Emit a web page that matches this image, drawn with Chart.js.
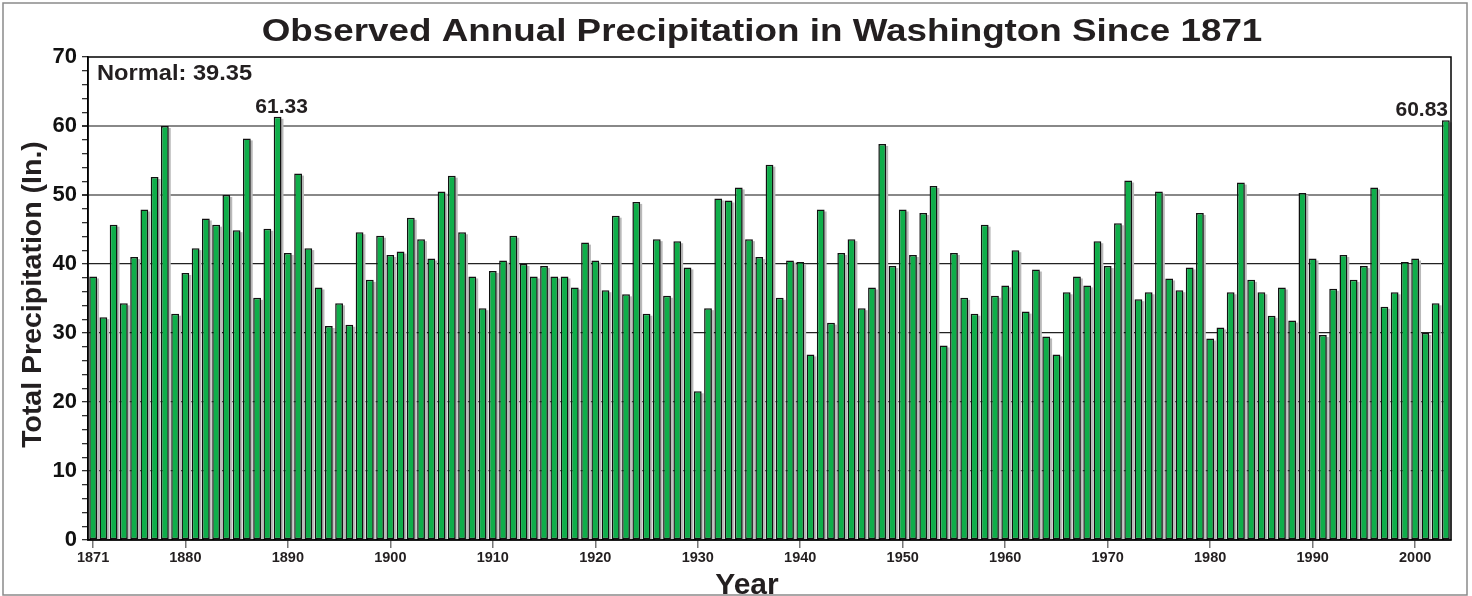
<!DOCTYPE html>
<html>
<head>
<meta charset="utf-8">
<script src="https://cdn.jsdelivr.net/npm/chart.js@4.4.1/dist/chart.umd.min.js"></script>
<style>
    html, body { margin: 0; padding: 0; background: #fff; }
    #wrap { width: 1472px; height: 596px; position: relative; }
</style>
</head>
<body>
<div id="wrap"><canvas id="chart" width="1472" height="596"></canvas></div>
<script>
// --- DADOS ---
const years = [
    '1871','1872','1873','1874','1875','1876','1877','1878','1879','1880',
    '1881','1882','1883','1884','1885','1886','1887','1888','1889','1890',
    '1891','1892','1893','1894','1895','1896','1897','1898','1899','1900',
    '1901','1902','1903','1904','1905','1906','1907','1908','1909','1910',
    '1911','1912','1913','1914','1915','1916','1917','1918','1919','1920',
    '1921','1922','1923','1924','1925','1926','1927','1928','1929','1930',
    '1931','1932','1933','1934','1935','1936','1937','1938','1939','1940',
    '1941','1942','1943','1944','1945','1946','1947','1948','1949','1950',
    '1951','1952','1953','1954','1955','1956','1957','1958','1959','1960',
    '1961','1962','1963','1964','1965','1966','1967','1968','1969','1970',
    '1971','1972','1973','1974','1975','1976','1977','1978','1979','1980',
    '1981','1982','1983','1984','1985','1986','1987','1988','1989','1990',
    '1991','1992','1993','1994','1995','1996','1997','1998','1999','2000',
    '2001','2002','2003'
];

const precipitation = [
    38.2, 32.3, 45.7, 34.3, 41.0, 47.9, 52.6, 60.0, 32.8, 38.7,
    42.3, 46.6, 45.7, 50.0, 44.9, 58.2, 35.1, 45.1, 61.33, 41.6,
    53.1, 42.3, 36.6, 31.0, 34.3, 31.2, 44.6, 37.7, 44.1, 41.3,
    41.8, 46.7, 43.6, 40.8, 50.5, 52.8, 44.6, 38.2, 33.6, 39.0,
    40.5, 44.1, 40.0, 38.2, 39.7, 38.2, 38.2, 36.6, 43.1, 40.5,
    36.2, 47.0, 35.6, 49.0, 32.8, 43.6, 35.4, 43.3, 39.5, 21.55,
    33.6, 49.5, 49.2, 51.1, 43.6, 41.0, 54.4, 35.1, 40.5, 40.3,
    26.9, 47.9, 31.5, 41.6, 43.6, 33.6, 36.6, 57.4, 39.7, 47.9,
    41.3, 47.4, 51.3, 28.2, 41.6, 35.1, 32.8, 45.7, 35.4, 36.9,
    42.0, 33.1, 39.2, 29.5, 26.9, 35.9, 38.2, 36.9, 43.3, 39.7,
    45.9, 52.1, 34.9, 35.9, 50.5, 37.9, 36.2, 39.5, 47.4, 29.2,
    30.8, 35.9, 51.8, 37.7, 35.9, 32.5, 36.6, 31.8, 50.3, 40.8,
    29.7, 36.4, 41.3, 37.7, 39.7, 51.1, 33.8, 35.9, 40.3, 40.8,
    30.0, 34.3, 60.83
];

const xTickLabels = ['1871','1880','1890','1900','1910','1920','1930','1940','1950','1960','1970','1980','1990','2000'];
const yTickLabels = [0, 10, 20, 30, 40, 50, 60, 70];

const normalValue = 39.35;
const labeledYears = ['1889', '2003'];

const FONT = '"Liberation Sans", Arial, sans-serif';
const TEXT_COLOR = '#231f20';

// cores das linhas de grade (cinza nas de cima, preto no meio)
const gridColors = { 10: '#555', 20: '#555', 30: '#222', 40: '#222', 50: '#888', 60: '#888' };

// texto com leve esticamento horizontal (o original usa uma fonte mais larga)
const drawStretched = (ctx, text, x, y, stretch, align) => {
    ctx.save();
    const w = ctx.measureText(text).width * stretch;
    let left = x;
    if (align === 'center') left = x - w / 2;
    if (align === 'right') left = x - w;
    ctx.translate(left, y);
    ctx.scale(stretch, 1);
    ctx.textAlign = 'left';
    ctx.fillText(text, 0, 0);
    ctx.restore();
    return w;
};

// --- PLUGIN: título, molduras, sombras, anotações ---
const decorPlugin = {
    id: 'decor',
    beforeDatasetsDraw(chart) {
        // sombra cinza à direita de cada barra
        const { ctx, chartArea } = chart;
        const meta = chart.getDatasetMeta(0);
        ctx.save();
        ctx.fillStyle = '#b9b9b9';
        meta.data.forEach(bar => {
            const { x, y, base, width } = bar.getProps(['x', 'y', 'base', 'width'], true);
            const top = y + 2;
            ctx.fillRect(x - width / 2 + 2, top, width, Math.min(base, chartArea.bottom) - top);
        });
        ctx.restore();
    },
    afterDraw(chart) {
        const { ctx, chartArea, scales } = chart;
        ctx.save();

        // moldura externa
        ctx.strokeStyle = '#8a8a8a';
        ctx.lineWidth = 1.5;
        ctx.strokeRect(3, 3, 1464, 592);

        // moldura da área do gráfico
        ctx.strokeStyle = '#000';
        ctx.lineWidth = 1.5;
        ctx.strokeRect(chartArea.left, chartArea.top, chartArea.right - chartArea.left, chartArea.bottom - chartArea.top);

        ctx.fillStyle = TEXT_COLOR;
        ctx.textBaseline = 'alphabetic';

        // título
        ctx.font = `bold 32px ${FONT}`;
        drawStretched(ctx, 'Observed Annual Precipitation in Washington Since 1871', 762, 41, 1.15, 'center');

        // normal
        ctx.font = `bold 22px ${FONT}`;
        drawStretched(ctx, `Normal: ${normalValue.toFixed(2)}`, chartArea.left + 9, chartArea.top + 23, 1.075, 'left');

        // valores máximos
        ctx.font = `bold 20px ${FONT}`;
        labeledYears.forEach(year => {
            const i = years.indexOf(year);
            const value = precipitation[i];
            const x = scales.x.getPixelForValue(i);
            const y = scales.y.getPixelForValue(value) - 4;
            const text = value.toFixed(2);
            const w = ctx.measureText(text).width * 1.05;
            let left = x - w / 2 + 4;
            if (left + w > chartArea.right - 3) left = chartArea.right - 3 - w;
            drawStretched(ctx, text, left, y, 1.05, 'left');
        });

        // título do eixo x
        ctx.font = `bold 30px ${FONT}`;
        ctx.textAlign = 'center';
        ctx.fillText('Year', 747, 594);

        // título do eixo y
        ctx.save();
        ctx.translate(41, (chartArea.top + chartArea.bottom) / 2 - 4);
        ctx.rotate(-Math.PI / 2);
        ctx.font = `bold 28.5px ${FONT}`;
        ctx.textAlign = 'center';
        ctx.fillText('Total Precipitation (In.)', 0, 0);
        ctx.restore();

        ctx.restore();
    }
};

const ctx = document.getElementById('chart').getContext('2d');
new Chart(ctx, {
    type: 'bar',
    data: {
        labels: years,
        datasets: [{
            label: 'Total Precipitation',
            data: precipitation,
            backgroundColor: '#0fae4a',
            borderColor: '#111',
            borderWidth: 1.5,
            borderSkipped: false,
            barPercentage: 0.76,
            categoryPercentage: 1.0
        }]
    },
    options: {
        responsive: false,
        animation: false,
        layout: { padding: { top: 57, right: 21, left: 0, bottom: 0 } },
        plugins: {
            legend: { display: false },
            tooltip: { enabled: false },
            title: { display: false }
        },
        scales: {
            x: {
                type: 'category',
                afterFit: scale => { scale.height = 56; },
                grid: {
                    drawOnChartArea: false,
                    offset: false,
                    tickLength: 8,
                    color: '#777',
                    lineWidth: 1.5
                },
                border: { display: true, color: '#000', width: 1.5 },
                ticks: {
                    autoSkip: false,
                    maxRotation: 0,
                    padding: 1,
                    color: TEXT_COLOR,
                    font: { family: FONT, size: 14.5, weight: 'bold' },
                    callback: (val, i) => xTickLabels.includes(years[i]) ? years[i] : null
                }
            },
            y: {
                min: 0,
                max: 70,
                afterFit: scale => { scale.width = 88; },
                grid: {
                    tickLength: 6,
                    color: c => gridColors[c.tick.value] || 'rgba(0,0,0,0)',
                    tickColor: '#333',
                    lineWidth: c => (c.tick.value === 50 || c.tick.value === 60) ? 2 : 1.3
                },
                border: { display: true, color: '#000', width: 1.5 },
                ticks: {
                    stepSize: 2,
                    autoSkip: false,
                    maxTicksLimit: 100,
                    padding: 5,
                    color: '#111',
                    font: { family: FONT, size: 22, weight: 'bold' },
                    callback: v => yTickLabels.includes(v) ? String(v) : ''
                }
            }
        }
    },
    plugins: [decorPlugin]
});
</script>
</body>
</html>
